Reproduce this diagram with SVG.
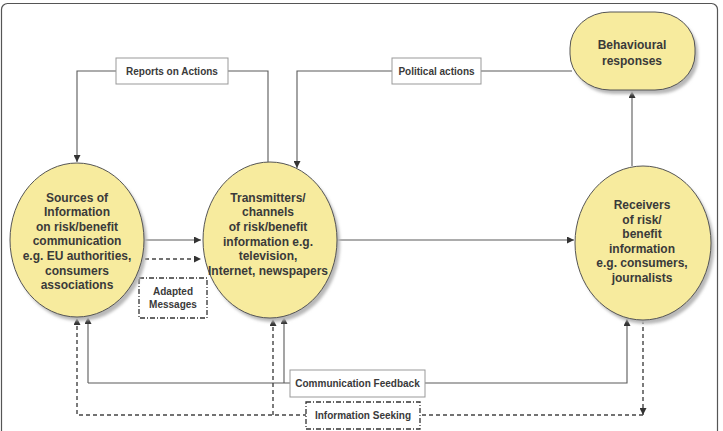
<svg xmlns="http://www.w3.org/2000/svg" width="723" height="431" viewBox="0 0 723 431">
<style>
text{font-family:"Liberation Sans",Arial,sans-serif;font-weight:bold;fill:#3a3a3a;text-anchor:middle}
.node{font-size:12px}
.lbl{font-size:10px}
.shape{fill:#f7eb9e;stroke:#555;stroke-width:1}
.shadow{fill:#b8b8b8;filter:url(#blur)}
.ln{fill:none;stroke:#5a5a5a;stroke-width:1.1}
.dash{fill:none;stroke:#444;stroke-width:1.4;stroke-dasharray:4 3}
.box{fill:#fff;stroke:#999;stroke-width:1}
.dbox{fill:#fff;stroke:#333;stroke-width:1.3;stroke-dasharray:5 2 1 2}
</style>
<defs>
<filter id="blur" x="-20%" y="-20%" width="140%" height="140%"><feGaussianBlur stdDeviation="1.5"/></filter>
<marker id="ah" viewBox="0 0 10 10" refX="10" refY="5" markerWidth="7" markerHeight="7" markerUnits="userSpaceOnUse" orient="auto"><path d="M0,0 L10,5 L0,10 z" fill="#333"/></marker>
</defs>
<rect x="1.5" y="3.5" width="716" height="440" rx="6" fill="#fff" stroke="#555" stroke-width="1.2"/>

<g id="connectors">
<path class="ln" d="M268,162 V71 H77 V162" marker-end="url(#ah)"/>
<path class="ln" d="M572,71 H297 V168" marker-end="url(#ah)"/>
<path class="ln" d="M632,166 V91" marker-end="url(#ah)"/>
<path class="ln" d="M145,240 H201" marker-end="url(#ah)"/>
<path class="dash" d="M145,259 H201" marker-end="url(#ah)"/>
<path class="ln" d="M337,240 H574" marker-end="url(#ah)"/>
<path class="ln" d="M88,383 H627 V319" marker-end="url(#ah)"/>
<path class="ln" d="M88,383 V317" marker-end="url(#ah)"/>
<path class="ln" d="M284,383 V317" marker-end="url(#ah)"/>
<path class="dash" d="M643,320 V415" marker-end="url(#ah)"/>
<path class="dash" d="M643,415 H77 V318" marker-end="url(#ah)"/>
<path class="dash" d="M273,415 V319" marker-end="url(#ah)"/>
<g id="lbl-reports"><rect class="box" x="116" y="58" width="112" height="26"/><text class="lbl" x="172" y="75">Reports on Actions</text></g>
<g id="lbl-political"><rect class="box" x="392" y="58" width="89" height="26"/><text class="lbl" x="436.5" y="75">Political actions</text></g>
<g id="lbl-adapted"><rect class="dbox" x="139" y="278" width="68" height="40"/><text class="lbl" x="173" y="295">Adapted</text><text class="lbl" x="173" y="308">Messages</text></g>
<g id="lbl-feedback"><rect class="box" x="290" y="370" width="135" height="27"/><text class="lbl" x="357.5" y="387">Communication Feedback</text></g>
<g id="lbl-seeking"><rect class="dbox" x="306" y="402" width="114" height="27"/><text class="lbl" x="363" y="419">Information Seeking</text></g>
</g>

<g id="sources">
<ellipse class="shadow" cx="80" cy="244" rx="67" ry="77"/>
<ellipse class="shape" cx="77" cy="240" rx="67" ry="77"/>
<text class="node" x="77" y="201.5">Sources of</text>
<text class="node" x="77" y="216">Information</text>
<text class="node" x="77" y="230.5">on risk/benefit</text>
<text class="node" x="77" y="245">communication</text>
<text class="node" x="77" y="260">e.g. EU authorities,</text>
<text class="node" x="77" y="274.5">consumers</text>
<text class="node" x="77" y="289">associations</text>
</g>

<g id="transmitters">
<ellipse class="shadow" cx="273" cy="244" rx="67" ry="78"/>
<ellipse class="shape" cx="270" cy="240" rx="67" ry="78"/>
<text class="node" x="268" y="201.5">Transmitters/</text>
<text class="node" x="268" y="216">channels</text>
<text class="node" x="268" y="231">of risk/benefit</text>
<text class="node" x="268" y="245.5">information e.g.</text>
<text class="node" x="268" y="260">television,</text>
<text class="node" x="268" y="275">Internet, newspapers</text>
</g>

<g id="receivers">
<ellipse class="shadow" cx="646" cy="247" rx="68" ry="77"/>
<ellipse class="shape" cx="643" cy="243" rx="68" ry="77"/>
<text class="node" x="642" y="209">Receivers</text>
<text class="node" x="642" y="224">of risk/</text>
<text class="node" x="642" y="238">benefit</text>
<text class="node" x="642" y="253">information</text>
<text class="node" x="642" y="267">e.g. consumers,</text>
<text class="node" x="642" y="282">journalists</text>
</g>

<g id="behavioural">
<rect class="shadow" x="573" y="16" width="125" height="78" rx="40" ry="36"/>
<rect class="shape" x="570" y="12" width="125" height="78" rx="40" ry="36"/>
<text class="node" x="632" y="49">Behavioural</text>
<text class="node" x="632" y="65">responses</text>
</g>
</svg>
